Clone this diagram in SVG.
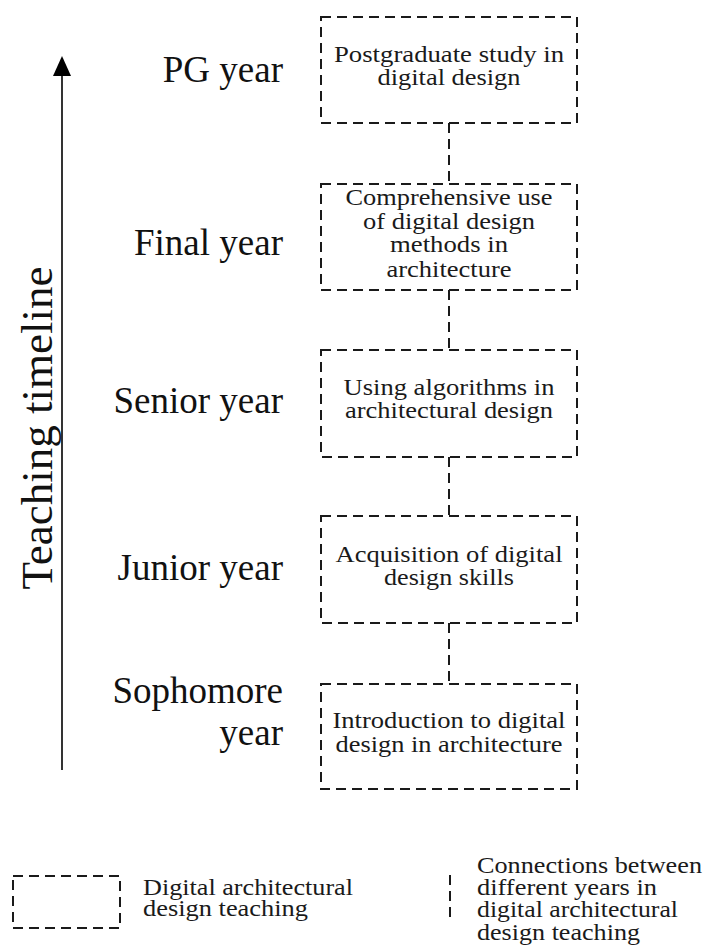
<svg xmlns="http://www.w3.org/2000/svg" width="707" height="947" viewBox="0 0 707 947">
  <style>
    .box { fill: none; stroke: #1a1a1a; stroke-width: 2; stroke-dasharray: 10 6; }
    .link { fill: none; stroke: #1a1a1a; stroke-width: 2; stroke-dasharray: 10 6; }
    .boxtxt { font-family: "Liberation Serif", "Times New Roman", serif; font-size: 24px; fill: #1a1a1a; text-anchor: middle; }
    .year { font-family: "Liberation Serif", "Times New Roman", serif; font-size: 37px; fill: #111; text-anchor: end; }
    .axis { font-family: "Liberation Serif", "Times New Roman", serif; font-size: 45px; fill: #111; text-anchor: middle; }
    .legend { font-family: "Liberation Serif", "Times New Roman", serif; font-size: 23px; fill: #1a1a1a; }
  </style>
  <rect width="707" height="947" fill="#fff"/>

  <!-- timeline axis -->
  <g id="timeline">
    <line x1="62" y1="770" x2="62" y2="75" stroke="#000" stroke-width="1.6"/>
    <path d="M53,76 L62,56 L71,76 Z" fill="#000"/>
    <text class="axis" transform="translate(52,428) rotate(-90)" x="0" y="0">Teaching timeline</text>
  </g>

  <!-- year labels -->
  <g id="years">
    <text class="year" x="283" y="82">PG year</text>
    <text class="year" x="283" y="255">Final year</text>
    <text class="year" x="283" y="413">Senior year</text>
    <text class="year" x="283" y="580">Junior year</text>
    <text class="year" x="283" y="703">Sophomore</text>
    <text class="year" x="283" y="745">year</text>
  </g>

  <!-- connectors between years -->
  <g id="connectors">
    <line class="link" x1="449" y1="123" x2="449" y2="184"/>
    <line class="link" x1="449" y1="290" x2="449" y2="350"/>
    <line class="link" x1="449" y1="457" x2="449" y2="516"/>
    <line class="link" x1="449" y1="623" x2="449" y2="684"/>
  </g>

  <g id="pg">
    <rect class="box" x="321" y="17" width="256" height="106"/>
    <text class="boxtxt" x="449" y="62" textLength="230" lengthAdjust="spacingAndGlyphs">Postgraduate study in</text>
    <text class="boxtxt" x="449" y="85" textLength="143" lengthAdjust="spacingAndGlyphs">digital design</text>
  </g>

  <g id="final">
    <rect class="box" x="321" y="184" width="256" height="106"/>
    <text class="boxtxt" x="449" y="205" textLength="207" lengthAdjust="spacingAndGlyphs">Comprehensive use</text>
    <text class="boxtxt" x="449" y="229" textLength="172" lengthAdjust="spacingAndGlyphs">of digital design</text>
    <text class="boxtxt" x="449" y="252" textLength="118" lengthAdjust="spacingAndGlyphs">methods in</text>
    <text class="boxtxt" x="449" y="277" textLength="125" lengthAdjust="spacingAndGlyphs">architecture</text>
  </g>

  <g id="senior">
    <rect class="box" x="321" y="350" width="256" height="107"/>
    <text class="boxtxt" x="449" y="395" textLength="211" lengthAdjust="spacingAndGlyphs">Using algorithms in</text>
    <text class="boxtxt" x="449" y="418" textLength="208" lengthAdjust="spacingAndGlyphs">architectural design</text>
  </g>

  <g id="junior">
    <rect class="box" x="321" y="516" width="256" height="107"/>
    <text class="boxtxt" x="449" y="562" textLength="227" lengthAdjust="spacingAndGlyphs">Acquisition of digital</text>
    <text class="boxtxt" x="449" y="585" textLength="130" lengthAdjust="spacingAndGlyphs">design skills</text>
  </g>

  <g id="sophomore">
    <rect class="box" x="321" y="684" width="256" height="105"/>
    <text class="boxtxt" x="449" y="728" textLength="233" lengthAdjust="spacingAndGlyphs">Introduction to digital</text>
    <text class="boxtxt" x="449" y="752" textLength="227" lengthAdjust="spacingAndGlyphs">design in architecture</text>
  </g>

  <!-- legend -->
  <g id="legend-box">
    <rect class="box" x="13" y="876" width="107" height="52"/>
    <text class="legend" x="143" y="895" textLength="210" lengthAdjust="spacingAndGlyphs">Digital architectural</text>
    <text class="legend" x="143" y="916" textLength="165" lengthAdjust="spacingAndGlyphs">design teaching</text>
  </g>
  <g id="legend-link">
    <line class="link" x1="450" y1="875" x2="450" y2="923"/>
    <text class="legend" x="477" y="873" textLength="225" lengthAdjust="spacingAndGlyphs">Connections between</text>
    <text class="legend" x="477" y="895" textLength="180" lengthAdjust="spacingAndGlyphs">different years in</text>
    <text class="legend" x="477" y="917" textLength="201" lengthAdjust="spacingAndGlyphs">digital architectural</text>
    <text class="legend" x="477" y="940" textLength="163" lengthAdjust="spacingAndGlyphs">design teaching</text>
  </g>
</svg>
